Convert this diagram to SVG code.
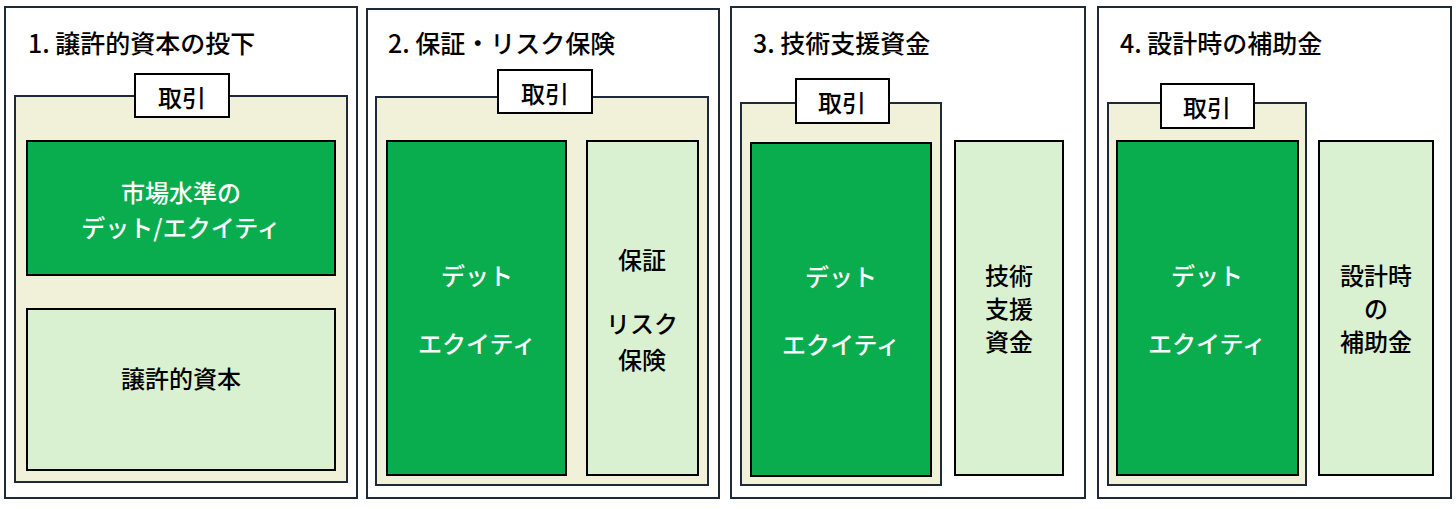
<svg xmlns="http://www.w3.org/2000/svg" width="1456" height="509" viewBox="0 0 1456 509">
<style>
text{font-family:"Noto Sans CJK JP","Noto Sans",sans-serif;font-size:24px;font-weight:500;text-anchor:middle;dominant-baseline:central}
.t{text-anchor:start;font-size:25px;fill:#000}
.o{fill:#fff;stroke:#1e2a3a;stroke-width:2}
.tan{fill:#f0f1d8;stroke:#1e2a3a;stroke-width:2}
.lab{fill:#fff;stroke:#000;stroke-width:2}
.dk{fill:#0aad4e;stroke:#000;stroke-width:2}
.lt{fill:#d9f1d0;stroke:#000;stroke-width:2}
.w{fill:#fff}
</style>
<rect width="1456" height="509" fill="#fff"/>
<g id="p1">
<rect class="o" x="5" y="7" width="352" height="491"/>
<text class="t" x="28" y="42">1. 譲許的資本の投下</text>
<rect class="tan" x="15" y="96" width="332" height="386"/>
<rect class="lab" x="135" y="74" width="94" height="43"/><text x="182" y="96">取引</text>
<rect class="dk" x="27" y="141" width="308" height="134"/>
<text class="w" x="181" y="191">市場水準の</text><text class="w" x="181" y="226">デット/エクイティ</text>
<rect class="lt" x="27" y="309" width="308" height="161"/><text x="181" y="377">譲許的資本</text>
</g>
<g id="p2">
<rect class="o" x="367" y="9" width="352" height="489"/>
<text class="t" x="388" y="42">2. 保証・リスク保険</text>
<rect class="tan" x="376" y="97" width="332" height="388"/>
<rect class="lab" x="498" y="70" width="94" height="43"/><text x="545" y="92">取引</text>
<rect class="dk" x="387" y="141" width="179" height="334"/>
<text class="w" x="477" y="274">デット</text><text class="w" x="477" y="342">エクイティ</text>
<rect class="lt" x="587" y="141" width="111" height="334"/>
<text x="642" y="258">保証</text><text x="642" y="322">リスク</text><text x="642" y="358">保険</text>
</g>
<g id="p3">
<rect class="o" x="731" y="7" width="354" height="491"/>
<text class="t" x="753" y="42">3. 技術支援資金</text>
<rect class="tan" x="741" y="103" width="200" height="382"/>
<rect class="lab" x="796" y="79" width="93" height="44"/><text x="842" y="101">取引</text>
<rect class="dk" x="751" y="143" width="180" height="333"/>
<text class="w" x="841" y="275">デット</text><text class="w" x="841" y="343">エクイティ</text>
<rect class="lt" x="955" y="141" width="108" height="334"/>
<text x="1009" y="274">技術</text><text x="1009" y="307">支援</text><text x="1009" y="340">資金</text>
</g>
<g id="p4">
<rect class="o" x="1098" y="7" width="353" height="491"/>
<text class="t" x="1120" y="42">4. 設計時の補助金</text>
<rect class="tan" x="1108" y="103" width="198" height="382"/>
<rect class="lab" x="1161" y="84" width="93" height="44"/><text x="1207" y="106">取引</text>
<rect class="dk" x="1117" y="141" width="181" height="334"/>
<text class="w" x="1207" y="274">デット</text><text class="w" x="1207" y="342">エクイティ</text>
<rect class="lt" x="1319" y="141" width="114" height="334"/>
<text x="1376" y="274">設計時</text><text x="1376" y="307">の</text><text x="1376" y="340">補助金</text>
</g>
<g id="connectors"/>
</svg>
